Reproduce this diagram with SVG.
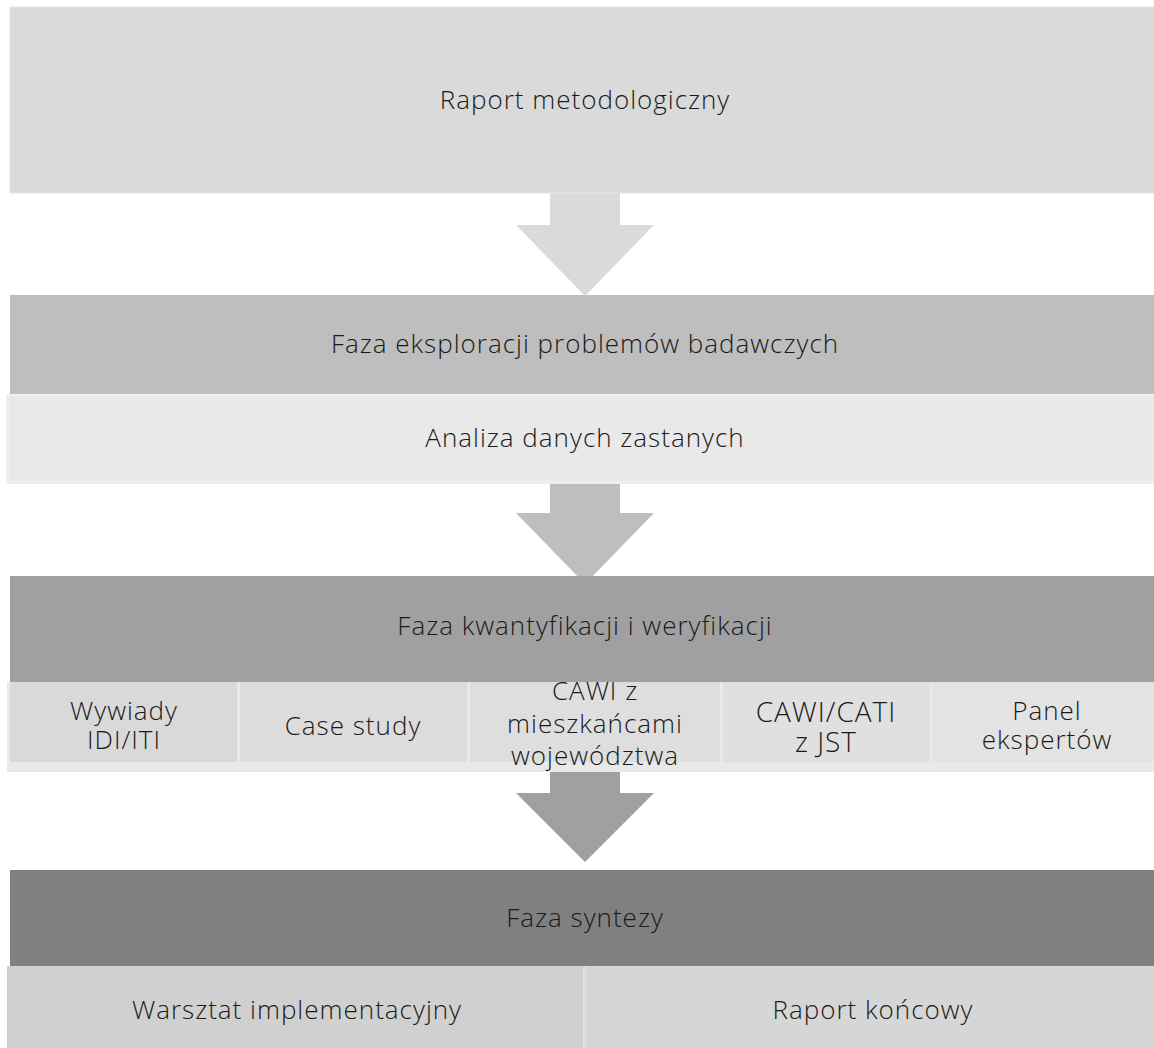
<svg xmlns="http://www.w3.org/2000/svg" width="1154" height="1048" viewBox="0 0 1154 1048">
<style>
text{font-family:"Open Sans","Liberation Sans",sans-serif;font-weight:300;fill:#1a1a1a;text-anchor:middle;font-size:26px;letter-spacing:1px}
</style>
<rect width="1154" height="1048" fill="#ffffff"/>
<g id="connectors">
<polygon points="550,193 620,193 620,225 654,225 585,296 516,225 550,225" fill="#dadada"/>
<polygon points="550,483 620,483 620,513 654,513 585,584 516,513 550,513" fill="#bebebe"/>
<polygon points="550,772 620,772 620,793 654,793 585,862 516,793 550,793" fill="#a0a0a0"/>
</g>
<g id="n1"><rect x="10" y="7" width="1150" height="186" fill="#dadada" stroke="#e4e4e4"/><text x="585" y="109">Raport metodologiczny</text></g>
<g id="n2"><rect x="10" y="295" width="1150" height="99" fill="#bebebe"/><text x="585" y="353">Faza eksploracji problemów badawczych</text></g>
<g id="n3"><rect x="7.5" y="395.5" width="1150" height="87" fill="#e9e9e9" stroke="#efefef" stroke-width="3"/><text x="585" y="447">Analiza danych zastanych</text></g>
<g id="n4"><rect x="10" y="576" width="1150" height="106" fill="#a0a0a0"/><text x="585" y="635">Faza kwantyfikacji i weryfikacji</text></g>
<rect x="7" y="682" width="1150" height="90" fill="#e9e9e9"/>
<g id="c1"><rect x="10" y="682" width="227" height="80" fill="#d9d9d9"/><text x="124" y="720">Wywiady</text><text x="124" y="749">IDI/ITI</text></g>
<g id="c2"><rect x="240" y="682" width="227" height="80" fill="#dcdcdc"/><text x="353" y="735">Case study</text></g>
<g id="c3"><rect x="470" y="682" width="250" height="80" fill="#dedede"/><text x="595" y="700">CAWI z</text><text x="595" y="733">mieszkańcami</text><text x="595" y="765">województwa</text></g>
<g id="c4"><rect x="723" y="682" width="207" height="80" fill="#e0e0e0"/><text x="826" y="722" style="font-size:28px">CAWI/CATI</text><text x="826" y="752" style="font-size:28px">z JST</text></g>
<g id="c5"><rect x="933" y="682" width="221" height="80" fill="#e3e3e3"/><text x="1047" y="720">Panel</text><text x="1047" y="749">ekspertów</text></g>
<g id="n5"><rect x="10" y="870" width="1150" height="96" fill="#808080"/><text x="585" y="927">Faza syntezy</text></g>
<rect x="7" y="966" width="1150" height="82" fill="#e0e0e0"/>
<g id="n6"><rect x="7" y="966" width="576" height="82" fill="#d0d0d0"/><text x="297" y="1019">Warsztat implementacyjny</text></g>
<g id="n7"><rect x="586" y="966" width="568" height="82" fill="#d6d6d6"/><text x="873" y="1019">Raport końcowy</text></g>
</svg>
